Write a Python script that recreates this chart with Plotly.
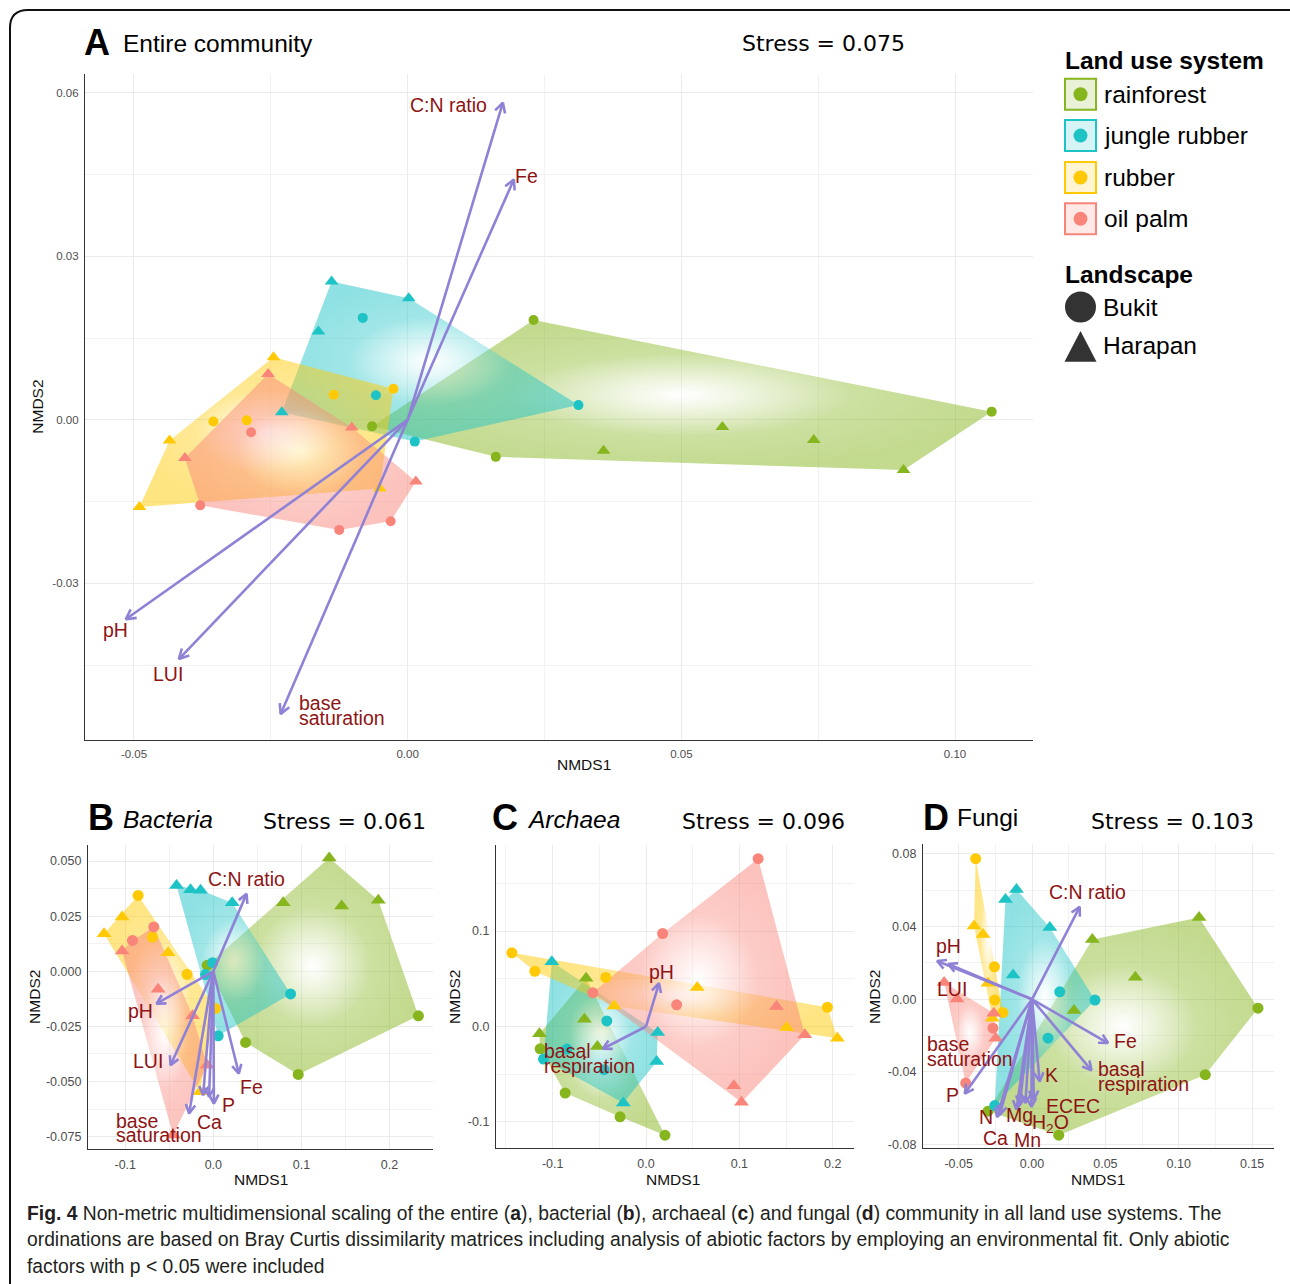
import math
import plotly.graph_objects as go

W, H = 1290, 1284

# ---------------- data ----------------
GROUPS = ["rainforest", "jungle rubber", "rubber", "oil palm"]
GROUP_COLORS = ["#86B51E", "#1EC3C6", "#FFCA05", "#F9857A"]
ARROW_COLOR = "#8F82D6"
LABEL_COLOR = "#8E1414"

# Panel A - entire community (Bukit = circles, Harapan = triangles)
A_RAINFOREST_BUKIT_X = [0.0230, 0.1067, 0.0161, -0.0065]
A_RAINFOREST_BUKIT_Y = [0.0183, 0.0015, -0.0068, -0.0012]
A_RAINFOREST_HARAPAN_X = [0.0358, 0.0575, 0.0742, 0.0906]
A_RAINFOREST_HARAPAN_Y = [-0.0057, -0.0013, -0.0037, -0.0092]
A_JUNGLE_BUKIT_X = [-0.0082, -0.0058, 0.0013, 0.0312]
A_JUNGLE_BUKIT_Y = [0.0187, 0.0045, -0.0040, 0.0027]
A_JUNGLE_HARAPAN_X = [-0.0139, 0.0002, -0.0163, -0.0230]
A_JUNGLE_HARAPAN_Y = [0.0254, 0.0223, 0.0162, 0.0014]
A_RUBBER_BUKIT_X = [-0.0135, -0.0026, -0.0355, -0.0294]
A_RUBBER_BUKIT_Y = [0.0046, 0.0057, -0.0003, -0.0001]
A_RUBBER_HARAPAN_X = [-0.0245, -0.0435, -0.0490, -0.0051]
A_RUBBER_HARAPAN_Y = [0.0115, -0.0038, -0.0160, -0.0126]
A_OILPALM_BUKIT_X = [-0.0286, -0.0379, -0.0125, -0.0031]
A_OILPALM_BUKIT_Y = [-0.0023, -0.0157, -0.0202, -0.0186]
A_OILPALM_HARAPAN_X = [-0.0255, -0.0407, -0.0102, 0.0015]
A_OILPALM_HARAPAN_Y = [0.0084, -0.0070, -0.0014, -0.0113]
A_ARROW_X = [0.0174, 0.0194, -0.0515, -0.0418, -0.0232]
A_ARROW_Y = [0.0582, 0.0441, -0.0366, -0.0439, -0.0540]
A_LABELS = ["C:N ratio", "Fe", "pH", "LUI", "base\nsaturation"]
A_LABEL_X = [0.0075, 0.0217, -0.0533, -0.0437, -0.0203]
A_LABEL_Y = [0.0578, 0.0448, -0.0386, -0.0466, -0.0533]

# Panel B - Bacteria
B_RAINFOREST_BUKIT_X = [0.2328, 0.0964, 0.0366, -0.0070]
B_RAINFOREST_BUKIT_Y = [-0.0202, -0.0468, -0.0323, 0.0027]
B_RAINFOREST_HARAPAN_X = [0.1316, 0.0793, 0.1457, 0.1873]
B_RAINFOREST_HARAPAN_Y = [0.0514, 0.0311, 0.0296, 0.0322]
B_JUNGLE_BUKIT_X = [0.0877, 0.0055, -0.0009, -0.0089]
B_JUNGLE_BUKIT_Y = [-0.0103, -0.0293, 0.0039, -0.0015]
B_JUNGLE_HARAPAN_X = [-0.0418, -0.0259, -0.0145, 0.0214]
B_JUNGLE_HARAPAN_Y = [0.0389, 0.0370, 0.0367, 0.0311]
B_RUBBER_BUKIT_X = [-0.0854, -0.0691, -0.0298, 0.0025]
B_RUBBER_BUKIT_Y = [0.0344, 0.0155, -0.0014, -0.0169]
B_RUBBER_HARAPAN_X = [-0.1036, -0.1241, -0.0514, -0.0153]
B_RUBBER_HARAPAN_Y = [0.0246, 0.0170, 0.0084, -0.0547]
B_OILPALM_BUKIT_X = [-0.0676, -0.0918]
B_OILPALM_BUKIT_Y = [0.0201, 0.0140]
B_OILPALM_HARAPAN_X = [-0.1036, -0.0627, -0.0236, -0.0070, -0.0457]
B_OILPALM_HARAPAN_Y = [0.0092, -0.0082, -0.0202, -0.0426, -0.0743]
B_ARROW_X = [0.0377, -0.0645, -0.0486, 0.0290, 0.0006, -0.0275, -0.0116, -0.0048]
B_ARROW_Y = [0.0351, -0.0147, -0.0426, -0.0464, -0.0600, -0.0645, -0.0562, -0.0569]
B_LABELS = ["C:N ratio", "pH", "LUI", "Fe", "P", "Ca", "base\nsaturation"]
B_LABEL_X = [0.0371, -0.0830, -0.0737, 0.0430, 0.0172, -0.0048, -0.1131]
B_LABEL_Y = [0.0417, -0.0180, -0.0406, -0.0524, -0.0607, -0.0683, -0.0711]

# Panel C - Archaea
C_RAINFOREST_BUKIT_X = [-0.1134, -0.0866, -0.0278, 0.0203]
C_RAINFOREST_BUKIT_Y = [-0.0234, -0.0697, -0.0947, -0.1139]
C_RAINFOREST_HARAPAN_X = [-0.0642, -0.0660, -0.1141, -0.0521]
C_RAINFOREST_HARAPAN_Y = [0.0505, 0.0077, -0.0077, -0.0209]
C_JUNGLE_BUKIT_X = [-0.0420, -0.0449, -0.1098, -0.0848]
C_JUNGLE_BUKIT_Y = [0.0059, -0.0453, -0.0341, -0.0237]
C_JUNGLE_HARAPAN_X = [-0.1009, 0.0125, 0.0114, -0.0243]
C_JUNGLE_HARAPAN_Y = [0.0679, -0.0063, -0.0366, -0.0801]
C_RUBBER_BUKIT_X = [-0.1437, -0.1191, -0.0431, 0.1943]
C_RUBBER_BUKIT_Y = [0.0773, 0.0578, 0.0515, 0.0202]
C_RUBBER_HARAPAN_X = [-0.0342, 0.0549, 0.1505, 0.2050]
C_RUBBER_HARAPAN_Y = [0.0216, 0.0408, -0.0010, -0.0122]
C_OILPALM_BUKIT_X = [0.1201, 0.0178, -0.0570, 0.0328]
C_OILPALM_BUKIT_Y = [0.1759, 0.0975, 0.0355, 0.0227]
C_OILPALM_HARAPAN_X = [0.1398, 0.1701, 0.0941, 0.1023]
C_OILPALM_HARAPAN_Y = [0.0209, -0.0087, -0.0620, -0.0794]
C_ARROW_X = [0.0139, -0.0463]
C_ARROW_Y = [0.0453, -0.0233]
C_LABELS = ["pH", "basal\nrespiration"]
C_LABEL_X = [0.0171, -0.1116]
C_LABEL_Y = [0.0571, -0.0331]

# Panel D - Fungi
D_RAINFOREST_BUKIT_X = [0.1540, 0.1181, 0.0182, -0.0300]
D_RAINFOREST_BUKIT_Y = [-0.0049, -0.0415, -0.0748, -0.0616]
D_RAINFOREST_HARAPAN_X = [0.1138, 0.0411, 0.0704, 0.0286]
D_RAINFOREST_HARAPAN_Y = [0.0450, 0.0329, 0.0121, -0.0062]
D_JUNGLE_BUKIT_X = [0.0189, 0.0429, 0.0109, -0.0254]
D_JUNGLE_BUKIT_Y = [0.0041, -0.0004, -0.0214, -0.0585]
D_JUNGLE_HARAPAN_X = [-0.0106, -0.0181, 0.0121, -0.0129]
D_JUNGLE_HARAPAN_Y = [0.0604, 0.0549, 0.0395, 0.0134]
D_RUBBER_BUKIT_X = [-0.0384, -0.0256, -0.0254, -0.0198]
D_RUBBER_BUKIT_Y = [0.0774, 0.0179, -0.0004, -0.0073]
D_RUBBER_HARAPAN_X = [-0.0395, -0.0334, -0.0300, -0.0270]
D_RUBBER_HARAPAN_Y = [0.0403, 0.0357, 0.0088, -0.0104]
D_OILPALM_BUKIT_X = [-0.0266, -0.0452]
D_OILPALM_BUKIT_Y = [-0.0159, -0.0461]
D_OILPALM_HARAPAN_X = [-0.0599, -0.0511, -0.0261, -0.0247]
D_OILPALM_HARAPAN_Y = [0.0093, 0.0002, -0.0077, -0.0214]
D_ARROW_X = [0.0325, -0.0647, -0.0572, 0.0518, 0.0405, -0.0458, -0.0238, -0.0220,
             -0.0084, -0.0045, -0.0004, 0.0012, 0.0052, -0.0106]
D_ARROW_Y = [0.0509, 0.0211, 0.0194, -0.0241, -0.0391, -0.0519, -0.0648, -0.0635,
             -0.0580, -0.0571, -0.0593, -0.0552, -0.0452, -0.0607]
D_LABELS = ["C:N ratio", "pH", "LUI", "Fe", "basal\nrespiration", "base\nsaturation", "P",
            "N", "Ca", "Mg", "Mn", "H<sub>2</sub>O", "ECEC", "K"]
D_LABEL_X = [0.0376, -0.0572, -0.0545, 0.0636, 0.0434, -0.0731, -0.0542,
             -0.0315, -0.0247, -0.0086, -0.0031, 0.0125, 0.0277, 0.0132]
D_LABEL_Y = [0.0591, 0.0295, 0.0055, -0.0232, -0.0424, -0.0287, -0.0529,
             -0.0649, -0.0765, -0.0635, -0.0775, -0.0686, -0.0585, -0.0419]

# tick values
A_XTICKS = [-0.05, 0.0, 0.05, 0.10]
A_YTICKS = [-0.03, 0.0, 0.03, 0.06]
B_XTICKS = [-0.1, 0.0, 0.1, 0.2]
B_YTICKS = [-0.075, -0.050, -0.025, 0.0, 0.025, 0.050]
C_XTICKS = [-0.1, 0.0, 0.1, 0.2]
C_YTICKS = [-0.1, 0.0, 0.1]
D_XTICKS = [-0.05, 0.0, 0.05, 0.10, 0.15]
D_YTICKS = [-0.08, -0.04, 0.0, 0.04, 0.08]

# ---------------- helpers ----------------
FONT = "Liberation Sans"


def px(x):
    return x / W


def py(y):
    return 1 - y / H


def rgba(hx, a):
    hx = hx.lstrip("#")
    r, g, b = int(hx[0:2], 16), int(hx[2:4], 16), int(hx[4:6], 16)
    return f"rgba({r},{g},{b},{a})"


def hull(xs, ys):
    pts = sorted(set(zip(xs, ys)))
    if len(pts) < 3:
        return pts

    def cross(o, a, b):
        return (a[0] - o[0]) * (b[1] - o[1]) - (a[1] - o[1]) * (b[0] - o[0])

    lower, upper = [], []
    for p in pts:
        while len(lower) >= 2 and cross(lower[-2], lower[-1], p) <= 0:
            lower.pop()
        lower.append(p)
    for p in reversed(pts):
        while len(upper) >= 2 and cross(upper[-2], upper[-1], p) <= 0:
            upper.pop()
        upper.append(p)
    return lower[:-1] + upper[:-1]


PANELS = [
    dict(key="A", ax="", dom=(85, 1033, 74, 742), xr=(-0.05895, 0.11425), yr=(-0.0587, 0.0635),
         xt=A_XTICKS, yt=A_YTICKS, xfmt="{:.2f}", yfmt="{:.2f}", xminor=0.025, yminor=0.015,
         tickfont=11.5, msize=(10, 12), head=11,
         groups=[(A_RAINFOREST_BUKIT_X, A_RAINFOREST_BUKIT_Y, A_RAINFOREST_HARAPAN_X, A_RAINFOREST_HARAPAN_Y),
                 (A_JUNGLE_BUKIT_X, A_JUNGLE_BUKIT_Y, A_JUNGLE_HARAPAN_X, A_JUNGLE_HARAPAN_Y),
                 (A_RUBBER_BUKIT_X, A_RUBBER_BUKIT_Y, A_RUBBER_HARAPAN_X, A_RUBBER_HARAPAN_Y),
                 (A_OILPALM_BUKIT_X, A_OILPALM_BUKIT_Y, A_OILPALM_HARAPAN_X, A_OILPALM_HARAPAN_Y)],
         arrows=(A_ARROW_X, A_ARROW_Y), labels=(A_LABELS, A_LABEL_X, A_LABEL_Y),
         xtitle=(584, 767), ytitle=(38, 408)),
    dict(key="B", ax="2", dom=(88, 433, 848, 1153), xr=(-0.1423, 0.2494), yr=(-0.0808, 0.0571),
         xt=B_XTICKS, yt=B_YTICKS, xfmt="{:.1f}", yfmt="{:.3f}", xminor=0.05, yminor=0.0125,
         tickfont=12.5, msize=(11, 13), head=10,
         groups=[(B_RAINFOREST_BUKIT_X, B_RAINFOREST_BUKIT_Y, B_RAINFOREST_HARAPAN_X, B_RAINFOREST_HARAPAN_Y),
                 (B_JUNGLE_BUKIT_X, B_JUNGLE_BUKIT_Y, B_JUNGLE_HARAPAN_X, B_JUNGLE_HARAPAN_Y),
                 (B_RUBBER_BUKIT_X, B_RUBBER_BUKIT_Y, B_RUBBER_HARAPAN_X, B_RUBBER_HARAPAN_Y),
                 (B_OILPALM_BUKIT_X, B_OILPALM_BUKIT_Y, B_OILPALM_HARAPAN_X, B_OILPALM_HARAPAN_Y)],
         arrows=(B_ARROW_X, B_ARROW_Y), labels=(B_LABELS, B_LABEL_X, B_LABEL_Y),
         xtitle=(261, 1183), ytitle=(35, 1000)),
    dict(key="C", ax="3", dom=(496, 854, 848, 1152), xr=(-0.1607, 0.2228), yr=(-0.1278, 0.1899),
         xt=C_XTICKS, yt=C_YTICKS, xfmt="{:.1f}", yfmt="{:.1f}", xminor=0.05, yminor=0.05,
         tickfont=12.5, msize=(11, 13), head=10,
         groups=[(C_RAINFOREST_BUKIT_X, C_RAINFOREST_BUKIT_Y, C_RAINFOREST_HARAPAN_X, C_RAINFOREST_HARAPAN_Y),
                 (C_JUNGLE_BUKIT_X, C_JUNGLE_BUKIT_Y, C_JUNGLE_HARAPAN_X, C_JUNGLE_HARAPAN_Y),
                 (C_RUBBER_BUKIT_X, C_RUBBER_BUKIT_Y, C_RUBBER_HARAPAN_X, C_RUBBER_HARAPAN_Y),
                 (C_OILPALM_BUKIT_X, C_OILPALM_BUKIT_Y, C_OILPALM_HARAPAN_X, C_OILPALM_HARAPAN_Y)],
         arrows=(C_ARROW_X, C_ARROW_Y), labels=(C_LABELS, C_LABEL_X, C_LABEL_Y),
         xtitle=(673, 1183), ytitle=(455, 1000)),
    dict(key="D", ax="4", dom=(923, 1274, 847, 1152), xr=(-0.0743, 0.1649), yr=(-0.0821, 0.0853),
         xt=D_XTICKS, yt=D_YTICKS, xfmt="{:.2f}", yfmt="{:.2f}", xminor=0.025, yminor=0.02,
         tickfont=12.5, msize=(11, 13), head=10,
         groups=[(D_RAINFOREST_BUKIT_X, D_RAINFOREST_BUKIT_Y, D_RAINFOREST_HARAPAN_X, D_RAINFOREST_HARAPAN_Y),
                 (D_JUNGLE_BUKIT_X, D_JUNGLE_BUKIT_Y, D_JUNGLE_HARAPAN_X, D_JUNGLE_HARAPAN_Y),
                 (D_RUBBER_BUKIT_X, D_RUBBER_BUKIT_Y, D_RUBBER_HARAPAN_X, D_RUBBER_HARAPAN_Y),
                 (D_OILPALM_BUKIT_X, D_OILPALM_BUKIT_Y, D_OILPALM_HARAPAN_X, D_OILPALM_HARAPAN_Y)],
         arrows=(D_ARROW_X, D_ARROW_Y), labels=(D_LABELS, D_LABEL_X, D_LABEL_Y),
         xtitle=(1098, 1183), ytitle=(875, 1000)),
]

fig = go.Figure()
annotations = []
shapes = []
layout_axes = {}

for P in PANELS:
    ax = P["ax"]
    xa, ya = "x" + ax, "y" + ax
    x0, x1, y0, y1 = P["dom"]
    sx = (x1 - x0) / (P["xr"][1] - P["xr"][0])
    sy = (y1 - y0) / (P["yr"][1] - P["yr"][0])

    # hull polygons with radial gradient
    for gi, (bx, by, hx, hy) in enumerate(P["groups"]):
        col = GROUP_COLORS[gi]
        hp = hull(bx + hx, by + hy)
        fig.add_trace(go.Scatter(
            x=[p[0] for p in hp] + [hp[0][0]], y=[p[1] for p in hp] + [hp[0][1]],
            xaxis=xa, yaxis=ya, mode="lines", fill="toself",
            line=dict(width=0, color="rgba(0,0,0,0)"),
            fillgradient=dict(type="radial",
                              colorscale=[[0, "rgba(255,255,255,0.35)"], [0.55, rgba(col, 0.42)],
                                          [1, rgba(col, 0.5)]]),
            hoverinfo="skip", showlegend=False))
    # points
    for gi, (bx, by, hx, hy) in enumerate(P["groups"]):
        col = GROUP_COLORS[gi]
        fig.add_trace(go.Scatter(x=bx, y=by, xaxis=xa, yaxis=ya, mode="markers",
                                 marker=dict(symbol="circle", size=P["msize"][0], color=col,
                                             line=dict(width=0)),
                                 name=GROUPS[gi] + " Bukit", showlegend=False))
        fig.add_trace(go.Scatter(x=hx, y=hy, xaxis=xa, yaxis=ya, mode="markers",
                                 marker=dict(symbol="triangle-up", size=P["msize"][1], color=col,
                                             line=dict(width=0)),
                                 name=GROUPS[gi] + " Harapan", showlegend=False))
    # arrows (shaft + open V head)
    ax_list, ay_list = [], []
    L = P["head"]
    ang = math.radians(28)
    for tx, ty in zip(*P["arrows"]):
        ax_list += [0, tx, None]
        ay_list += [0, ty, None]
        th = math.atan2(ty * sy, tx * sx)
        wings = []
        for s in (1, -1):
            a = th + math.pi + s * ang
            wings.append((tx + L * math.cos(a) / sx, ty + L * math.sin(a) / sy))
        ax_list += [wings[0][0], tx, wings[1][0], None]
        ay_list += [wings[0][1], ty, wings[1][1], None]
    fig.add_trace(go.Scatter(x=ax_list, y=ay_list, xaxis=xa, yaxis=ya, mode="lines",
                             line=dict(color=ARROW_COLOR, width=2.6), hoverinfo="skip",
                             showlegend=False))
    # labels
    LS = 15
    for txt, lx, ly in zip(*P["labels"]):
        lines = txt.split("\n")
        if len(lines) == 1:
            annotations.append(dict(x=lx, y=ly, xref=xa, yref=ya, text=txt, showarrow=False,
                                    xanchor="center", yanchor="middle",
                                    font=dict(family=FONT, size=19.5, color=LABEL_COLOR)))
        else:
            n = len(lines)
            for i, ln in enumerate(lines):
                yy = ly + ((n - 1) / 2 - i) * LS / sy
                annotations.append(dict(x=lx, y=yy, xref=xa, yref=ya, text=ln, showarrow=False,
                                        xanchor="left", yanchor="middle",
                                        font=dict(family=FONT, size=19.5, color=LABEL_COLOR)))

    axis_common = dict(showgrid=True, gridcolor="#EBEBEB", gridwidth=1.1, zeroline=False,
                       showline=True, linecolor="#333333", linewidth=1.3, ticks="",
                       tickfont=dict(family=FONT, size=P["tickfont"], color="#4D4D4D"),
                       ticklabelstandoff=3)
    xkey = "xaxis" + ax
    ykey = "yaxis" + ax
    layout_axes[xkey] = dict(axis_common, domain=[px(x0), px(x1)], range=list(P["xr"]),
                             anchor=ya, tickmode="array", tickvals=P["xt"],
                             ticktext=[P["xfmt"].format(v) for v in P["xt"]],
                             minor=dict(showgrid=True, gridcolor="#F2F2F2", gridwidth=0.7,
                                        dtick=P["xminor"], tick0=0))
    layout_axes[ykey] = dict(axis_common, domain=[py(y1), py(y0)], range=list(P["yr"]),
                             anchor=xa, tickmode="array", tickvals=P["yt"],
                             ticktext=[P["yfmt"].format(v) for v in P["yt"]],
                             minor=dict(showgrid=True, gridcolor="#F2F2F2", gridwidth=0.7,
                                        dtick=P["yminor"], tick0=0))
    # axis titles
    annotations.append(dict(x=px(P["xtitle"][0]), y=py(P["xtitle"][1]), xref="paper", yref="paper",
                            text="NMDS1", showarrow=False, xanchor="center", yanchor="middle",
                            font=dict(family=FONT, size=15.5, color="#111111")))
    annotations.append(dict(x=px(P["ytitle"][0]), y=py(P["ytitle"][1]), xref="paper", yref="paper",
                            text="NMDS2", showarrow=False, xanchor="center", yanchor="middle",
                            textangle=-90, font=dict(family=FONT, size=15.5, color="#111111")))

# ---------------- panel titles ----------------
TITLES = [
    ("A", "Entire community", "Stress = 0.075", (97, 43), (218, 44), (823, 44)),
    ("B", "<i>Bacteria</i>", "Stress = 0.061", (101, 820), (168, 822), (344, 824)),
    ("C", "<i>Archaea</i>", "Stress = 0.096", (505, 820), (573, 822), (763, 824)),
    ("D", "Fungi", "Stress = 0.103", (936, 820), (987, 820), (1172, 824)),
]
for letter, name, stress, lp, np_, sp in TITLES:
    annotations.append(dict(x=px(lp[0]), y=py(lp[1]), xref="paper", yref="paper",
                            text=f"<b>{letter}</b>", showarrow=False, xanchor="center",
                            yanchor="middle", font=dict(family=FONT, size=36, color="#000000")))
    annotations.append(dict(x=px(np_[0]), y=py(np_[1]), xref="paper", yref="paper",
                            text=name, showarrow=False, xanchor="center",
                            yanchor="middle", font=dict(family=FONT, size=24.5, color="#000000")))
    annotations.append(dict(x=px(sp[0]), y=py(sp[1]), xref="paper", yref="paper",
                            text=stress, showarrow=False, xanchor="center",
                            yanchor="middle", font=dict(family="DejaVu Sans", size=22, color="#000000")))

# ---------------- custom legend ----------------
annotations.append(dict(x=px(1063), y=py(61), xref="paper", yref="paper", text="<b>Land use system</b>",
                        showarrow=False, xanchor="left", yanchor="middle",
                        font=dict(family=FONT, size=24.5, color="#000000")))
leg_y = [94.5, 136, 178, 219.5]
for gi, g in enumerate(GROUPS):
    cy = leg_y[gi]
    col = GROUP_COLORS[gi]
    shapes.append(dict(type="rect", xref="paper", yref="paper", x0=px(1065), x1=px(1096),
                       y0=py(cy + 15.5), y1=py(cy - 15.5), line=dict(color=col, width=2),
                       fillcolor=rgba(col, 0.18)))
    shapes.append(dict(type="circle", xref="paper", yref="paper", x0=px(1080.5 - 7), x1=px(1080.5 + 7),
                       y0=py(cy + 7), y1=py(cy - 7), line=dict(width=0), fillcolor=col))
    annotations.append(dict(x=px(1102), y=py(cy), xref="paper", yref="paper", text=g,
                            showarrow=False, xanchor="left", yanchor="middle",
                            font=dict(family=FONT, size=24.5, color="#000000")))
annotations.append(dict(x=px(1063), y=py(275), xref="paper", yref="paper", text="<b>Landscape</b>",
                        showarrow=False, xanchor="left", yanchor="middle",
                        font=dict(family=FONT, size=24.5, color="#000000")))
shapes.append(dict(type="circle", xref="paper", yref="paper", x0=px(1065), x1=px(1096),
                   y0=py(323.5), y1=py(292.5), line=dict(width=0), fillcolor="#333333"))
shapes.append(dict(type="path", xref="paper", yref="paper",
                   path=f"M {px(1080.5)},{py(332)} L {px(1096.5)},{py(363)} L {px(1064.5)},{py(363)} Z",
                   line=dict(width=0), fillcolor="#333333"))
annotations.append(dict(x=px(1101), y=py(308), xref="paper", yref="paper", text="Bukit",
                        showarrow=False, xanchor="left", yanchor="middle",
                        font=dict(family=FONT, size=24.5, color="#000000")))
annotations.append(dict(x=px(1101), y=py(347), xref="paper", yref="paper", text="Harapan",
                        showarrow=False, xanchor="left", yanchor="middle",
                        font=dict(family=FONT, size=24.5, color="#000000")))

# ---------------- frame and caption ----------------
shapes.append(dict(type="path", xref="paper", yref="paper",
                   path=(f"M {px(1300)},{py(10)} L {px(28)},{py(10)} "
                         f"Q {px(10)},{py(10)} {px(10)},{py(28)} L {px(10)},{py(1300)}"),
                   line=dict(color="#111111", width=2)))

CAPTION = [
    "<b>Fig. 4</b> Non-metric multidimensional scaling of the entire (<b>a</b>), bacterial (<b>b</b>), "
    "archaeal (<b>c</b>) and fungal (<b>d</b>) community in all land use systems. The",
    "ordinations are based on Bray Curtis dissimilarity matrices including analysis of abiotic "
    "factors by employing an environmental fit. Only abiotic",
    "factors with p &lt; 0.05 were included",
]
for i, line in enumerate(CAPTION):
    annotations.append(dict(x=px(25), y=py(1217 + 26.5 * i), xref="paper", yref="paper", text=line,
                            showarrow=False, xanchor="left", yanchor="middle",
                            font=dict(family=FONT, size=19.3, color="#231F20")))

fig.update_layout(width=W, height=H, margin=dict(l=0, r=0, t=0, b=0, pad=0),
                  plot_bgcolor="white", paper_bgcolor="white", showlegend=False,
                  annotations=annotations, shapes=shapes, **layout_axes)

fig.write_html("out.html", config={"displayModeBar": False},
               post_script="document.body.style.margin='0';document.body.style.overflow='hidden';")
